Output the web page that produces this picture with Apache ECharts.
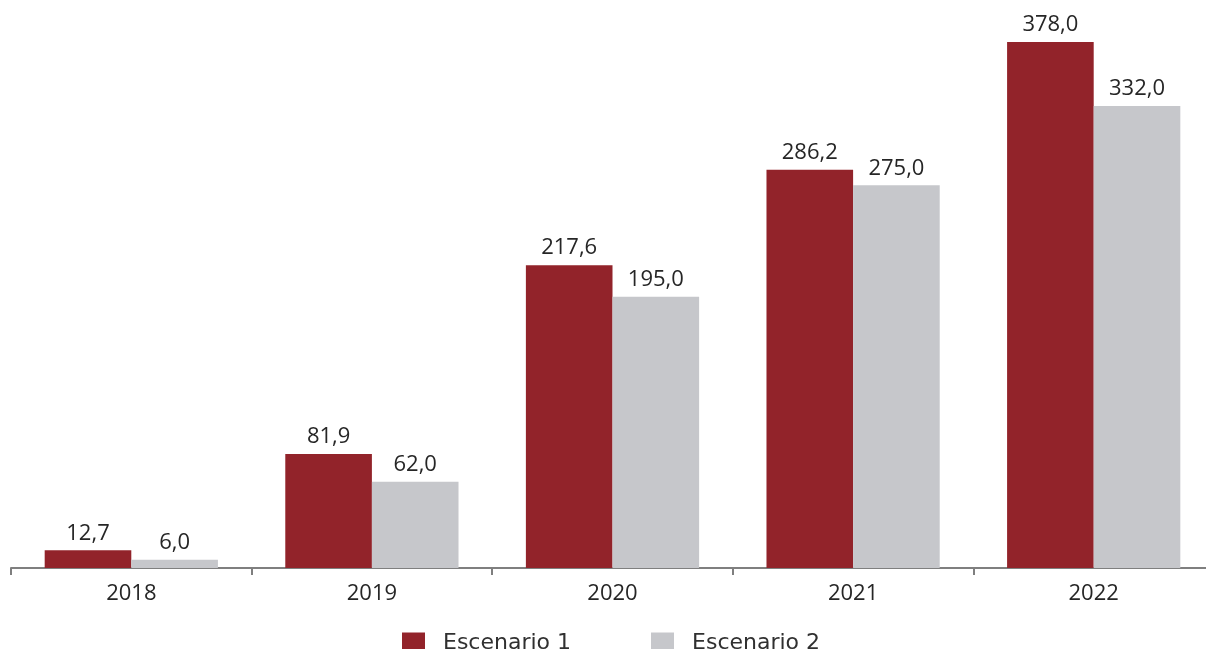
<!DOCTYPE html>
<html>
<head>
<meta charset="utf-8">
<style>
  html, body { margin: 0; padding: 0; background: #ffffff; }
  #chart { width: 1206px; height: 649px; }
</style>
<script src="https://cdn.jsdelivr.net/npm/echarts@6/dist/echarts.min.js"></script>
</head>
<body>
<div id="chart"></div>
<script>
// Years on the category axis
const years = ['2018', '2019', '2020', '2021', '2022'];
// Values for each scenario
const escenario1 = [12.7, 81.9, 217.6, 286.2, 378.0];
const escenario2 = [6.0, 62.0, 195.0, 275.0, 332.0];
const seriesNames = ['Escenario 1', 'Escenario 2'];

const fmt = p => p.value.toFixed(1).replace('.', ',');
const labelStyle = {
  show: true,
  position: 'top',
  distance: 6,
  formatter: fmt,
  color: '#262626',
  fontFamily: 'Open Sans',
  fontSize: 22
};

const chart = echarts.init(document.getElementById('chart'));
chart.setOption({
  animation: false,
  // the plot runs a little past the right edge of the canvas
  grid: { left: 11, width: 1203, top: 11.4, bottom: 81, containLabel: false, outerBoundsMode: 'none' },
  legend: {
    data: seriesNames,
    left: 397,
    top: 627,
    itemWidth: 23,
    itemHeight: 21,
    itemGap: 80,
    icon: 'rect',
    textStyle: {
      fontFamily: 'DejaVu Sans',
      fontSize: 22,
      color: '#303030',
      padding: [0, 0, 0, 13]
    }
  },
  xAxis: {
    type: 'category',
    data: years,
    axisLine: { lineStyle: { color: '#7f7f7f', width: 2 } },
    axisTick: { show: true, length: 7, lineStyle: { color: '#7f7f7f', width: 2 } },
    axisLabel: {
      color: '#262626',
      fontFamily: 'Open Sans',
      fontSize: 22,
      margin: 15
    }
  },
  yAxis: {
    type: 'value',
    min: 0,
    max: 400,
    show: false,
    splitLine: { show: false }
  },
  series: [
    {
      name: seriesNames[0],
      type: 'bar',
      data: escenario1,
      barGap: '0%',
      barCategoryGap: '28%',
      itemStyle: { color: '#92232a' },
      label: labelStyle
    },
    {
      name: seriesNames[1],
      type: 'bar',
      data: escenario2,
      barGap: '0%',
      barCategoryGap: '28%',
      itemStyle: { color: '#c6c7cb' },
      label: labelStyle
    }
  ]
});
</script>
</body>
</html>
